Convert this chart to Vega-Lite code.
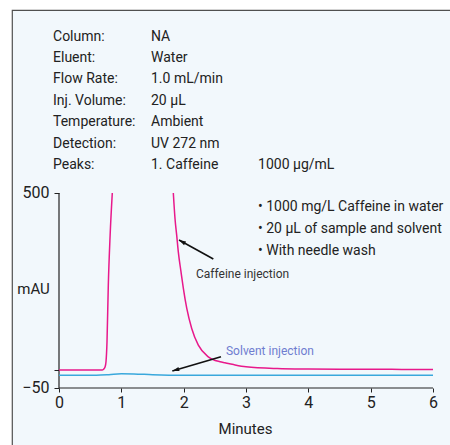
{
  "$schema": "https://vega.github.io/schema/vega-lite/v6.json",
  "width": 440,
  "height": 437,
  "autosize": {"type": "none"},
  "padding": {"left": 12, "top": 10, "right": -2, "bottom": -2},
  "background": "white",
  "config": {
    "view": {"stroke": "#505050", "strokeWidth": 1.2, "fill": "#f2f8fc"},
    "font": "Roboto",
    "axis": {"grid": false, "labelFont": "Roboto", "titleFont": "Roboto", "labelColor": "#222", "titleColor": "#222", "tickColor": "#222", "labelFontSize": 16, "titleFontSize": 15, "titleFontWeight": "normal", "domain": false}
  },
  "datasets": {
    "axislines": [
      {"x": 0, "y": -50, "x2": 0, "y2": 500},
      {"x": 0, "y": -50, "x2": 6, "y2": -50}
    ],
    "traces": [
      {"series": "Caffeine", "seg": "a", "x": 0, "y": 1},
      {"series": "Caffeine", "seg": "a", "x": 0.5, "y": 1},
      {"series": "Caffeine", "seg": "a", "x": 0.69, "y": 1},
      {"series": "Caffeine", "seg": "a", "x": 0.715, "y": 3},
      {"series": "Caffeine", "seg": "a", "x": 0.74, "y": 10},
      {"series": "Caffeine", "seg": "a", "x": 0.754, "y": 24},
      {"series": "Caffeine", "seg": "a", "x": 0.77, "y": 80},
      {"series": "Caffeine", "seg": "a", "x": 0.791, "y": 240},
      {"series": "Caffeine", "seg": "a", "x": 0.82, "y": 380},
      {"series": "Caffeine", "seg": "a", "x": 0.855, "y": 500},
      {"series": "Caffeine", "seg": "b", "x": 1.834, "y": 500},
      {"series": "Caffeine", "seg": "b", "x": 1.861, "y": 428},
      {"series": "Caffeine", "seg": "b", "x": 1.888, "y": 381},
      {"series": "Caffeine", "seg": "b", "x": 1.914, "y": 334},
      {"series": "Caffeine", "seg": "b", "x": 1.957, "y": 278},
      {"series": "Caffeine", "seg": "b", "x": 1.995, "y": 231},
      {"series": "Caffeine", "seg": "b", "x": 2.049, "y": 175},
      {"series": "Caffeine", "seg": "b", "x": 2.129, "y": 118},
      {"series": "Caffeine", "seg": "b", "x": 2.235, "y": 71},
      {"series": "Caffeine", "seg": "b", "x": 2.395, "y": 38},
      {"series": "Caffeine", "seg": "b", "x": 2.583, "y": 24},
      {"series": "Caffeine", "seg": "b", "x": 2.663, "y": 21},
      {"series": "Caffeine", "seg": "b", "x": 2.8, "y": 16},
      {"series": "Caffeine", "seg": "b", "x": 3.0, "y": 10},
      {"series": "Caffeine", "seg": "b", "x": 3.5, "y": 5},
      {"series": "Caffeine", "seg": "b", "x": 4.0, "y": 3.5},
      {"series": "Caffeine", "seg": "b", "x": 4.5, "y": 3},
      {"series": "Caffeine", "seg": "b", "x": 5.0, "y": 3},
      {"series": "Caffeine", "seg": "b", "x": 5.5, "y": 2.5},
      {"series": "Caffeine", "seg": "b", "x": 6.0, "y": 2},
      {"series": "Solvent", "seg": "c", "x": 0, "y": -14},
      {"series": "Solvent", "seg": "c", "x": 0.6, "y": -14},
      {"series": "Solvent", "seg": "c", "x": 0.8, "y": -12.5},
      {"series": "Solvent", "seg": "c", "x": 1.0, "y": -10},
      {"series": "Solvent", "seg": "c", "x": 1.2, "y": -10.5},
      {"series": "Solvent", "seg": "c", "x": 1.5, "y": -12.5},
      {"series": "Solvent", "seg": "c", "x": 2.0, "y": -14},
      {"series": "Solvent", "seg": "c", "x": 3.0, "y": -14},
      {"series": "Solvent", "seg": "c", "x": 4.0, "y": -14},
      {"series": "Solvent", "seg": "c", "x": 5.0, "y": -14},
      {"series": "Solvent", "seg": "c", "x": 6.0, "y": -14}
    ],
    "arrows": [
      {"arrow": "caffeine", "x": 2.476, "y": 313.8, "x2": 1.925, "y2": 367.4},
      {"arrow": "solvent", "x": 2.599, "y": 38.3, "x2": 1.818, "y2": -2}
    ],
    "info": [
      {"x": -0.096, "y": 929.6, "t": "Column:"},
      {"x": -0.096, "y": 869.3, "t": "Eluent:"},
      {"x": -0.096, "y": 809.0, "t": "Flow Rate:"},
      {"x": -0.096, "y": 748.7, "t": "Inj. Volume:"},
      {"x": -0.096, "y": 688.4, "t": "Temperature:"},
      {"x": -0.096, "y": 628.1, "t": "Detection:"},
      {"x": -0.096, "y": 567.8, "t": "Peaks:"},
      {"x": 1.476, "y": 929.6, "t": "NA"},
      {"x": 1.476, "y": 869.3, "t": "Water"},
      {"x": 1.476, "y": 809.0, "t": "1.0 mL/min"},
      {"x": 1.476, "y": 748.7, "t": "20 µL"},
      {"x": 1.476, "y": 688.4, "t": "Ambient"},
      {"x": 1.476, "y": 628.1, "t": "UV 272 nm"},
      {"x": 1.476, "y": 567.8, "t": "1. Caffeine"},
      {"x": 3.193, "y": 567.8, "t": "1000 µg/mL"}
    ],
    "bullets": [
      {"x": 3.193, "y": 449.2, "t": "•  1000 mg/L Caffeine in water"},
      {"x": 3.193, "y": 387.2, "t": "•  20 µL of sample and solvent"},
      {"x": 3.193, "y": 325.1, "t": "•  With needle wash"}
    ],
    "notes": [
      {"label": "caffeine", "x": 2.198, "y": 260.3, "t": "Caffeine injection"},
      {"label": "solvent", "x": 2.679, "y": 43.1, "t": "Solvent injection"}
    ]
  },
  "layer": [
    {
      "data": {"name": "axislines"},
      "mark": {"type": "rule", "color": "#222", "strokeWidth": 1.2},
      "encoding": {
        "x": {
          "field": "x", "type": "quantitative",
          "scale": {"domain": [-0.754, 6.3048], "nice": false, "zero": false},
          "axis": {"values": [0, 1, 2, 3, 4, 5, 6], "offset": -59, "tickSize": 4, "labelPadding": 2, "title": "Minutes", "titleX": 233, "titleY": 40, "titleBaseline": "middle", "titleAlign": "center", "format": "d"}
        },
        "y": {
          "field": "y", "type": "quantitative",
          "scale": {"domain": [-216.41, 1016.15], "nice": false, "zero": false},
          "axis": {"values": [-50, 0, 500], "offset": -47, "tickSize": 5, "labelPadding": 5, "labelExpr": "datum.value == 0 ? '' : datum.label", "title": "mAU", "titleAngle": 0, "titleX": -26, "titleY": 278, "titleAlign": "center", "titleBaseline": "middle"}
        },
        "x2": {"field": "x2"},
        "y2": {"field": "y2"}
      }
    },
    {
      "data": {"name": "traces"},
      "mark": {"type": "line", "strokeWidth": 1.5, "interpolate": "monotone"},
      "encoding": {
        "x": {"field": "x", "type": "quantitative"},
        "y": {"field": "y", "type": "quantitative"},
        "detail": {"field": "seg"},
        "color": {"field": "series", "type": "nominal", "scale": {"domain": ["Caffeine", "Solvent"], "range": ["#e8198b", "#3aa8dc"]}, "legend": null}
      }
    },
    {
      "data": {"name": "arrows"},
      "mark": {"type": "rule", "color": "#111", "strokeWidth": 1.6},
      "encoding": {
        "x": {"field": "x", "type": "quantitative"},
        "y": {"field": "y", "type": "quantitative"},
        "x2": {"field": "x2"},
        "y2": {"field": "y2"}
      }
    },
    {
      "data": {"name": "arrows"},
      "transform": [{"filter": "datum.arrow == 'caffeine'"}],
      "mark": {"type": "point", "shape": "M0,0L-0.65,2.2L0.65,2.2Z", "filled": true, "color": "#111", "opacity": 1, "size": 40, "angle": 299},
      "encoding": {
        "x": {"field": "x2", "type": "quantitative"},
        "y": {"field": "y2", "type": "quantitative"}
      }
    },
    {
      "data": {"name": "arrows"},
      "transform": [{"filter": "datum.arrow == 'solvent'"}],
      "mark": {"type": "point", "shape": "M0,0L-0.65,2.2L0.65,2.2Z", "filled": true, "color": "#111", "opacity": 1, "size": 40, "angle": 253.6},
      "encoding": {
        "x": {"field": "x2", "type": "quantitative"},
        "y": {"field": "y2", "type": "quantitative"}
      }
    },
    {
      "data": {"name": "info"},
      "mark": {"type": "text", "align": "left", "baseline": "alphabetic", "fontSize": 14, "color": "#222", "font": "Roboto"},
      "encoding": {
        "x": {"field": "x", "type": "quantitative"},
        "y": {"field": "y", "type": "quantitative"},
        "text": {"field": "t"}
      }
    },
    {
      "data": {"name": "bullets"},
      "mark": {"type": "text", "align": "left", "baseline": "alphabetic", "fontSize": 14, "color": "#222", "font": "Roboto"},
      "encoding": {
        "x": {"field": "x", "type": "quantitative"},
        "y": {"field": "y", "type": "quantitative"},
        "text": {"field": "t"}
      }
    },
    {
      "data": {"name": "notes"},
      "transform": [{"filter": "datum.label == 'caffeine'"}],
      "mark": {"type": "text", "align": "left", "baseline": "alphabetic", "fontSize": 12, "color": "#333", "font": "Roboto"},
      "encoding": {
        "x": {"field": "x", "type": "quantitative"},
        "y": {"field": "y", "type": "quantitative"},
        "text": {"field": "t"}
      }
    },
    {
      "data": {"name": "notes"},
      "transform": [{"filter": "datum.label == 'solvent'"}],
      "mark": {"type": "text", "align": "left", "baseline": "alphabetic", "fontSize": 12, "color": "#6f7dd0", "font": "Roboto"},
      "encoding": {
        "x": {"field": "x", "type": "quantitative"},
        "y": {"field": "y", "type": "quantitative"},
        "text": {"field": "t"}
      }
    }
  ]
}
